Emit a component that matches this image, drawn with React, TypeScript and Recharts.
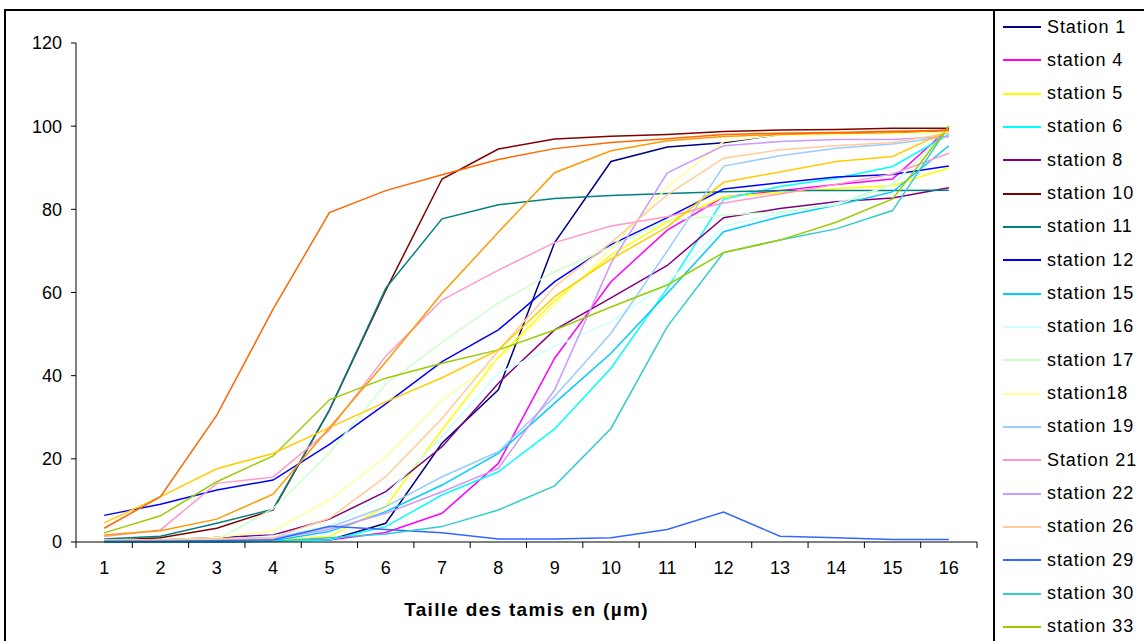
import { LineChart, Line, XAxis, YAxis } from 'recharts';

// sieve sizes (categories on the x axis)
const sizes = [1, 2, 3, 4, 5, 6, 7, 8, 9, 10, 11, 12, 13, 14, 15, 16];
const xTicks = [0.5, 1.5, 2.5, 3.5, 4.5, 5.5, 6.5, 7.5, 8.5, 9.5, 10.5, 11.5, 12.5, 13.5, 14.5, 15.5, 16.5];
const yTicks = [0, 20, 40, 60, 80, 100, 120];

// cumulative % per station
const station1 = [0.3, 0.3, 0.4, 0.4, 0.5, 4.5, 23.8, 36.6, 72, 91.5, 95, 96, 98, 98.3, 98.5, 99];
const station4 = [0.2, 0.2, 0.3, 0.4, 0.5, 2.3, 6.9, 18.9, 44.2, 62.6, 75, 83, 84.5, 86, 87.3, 99.5];
const station5 = [0.2, 0.2, 0.3, 0.4, 1.3, 8.5, 27, 44.4, 58, 69, 77, 83, 84, 85, 85.7, 90];
const station6 = [0, 0, 0, 0.2, 0.5, 3.7, 11.3, 16.9, 27.2, 41.8, 61, 82.4, 85.5, 87.5, 90.3, 98];
const station8 = [0.3, 0.5, 1.1, 1.7, 5.5, 12.1, 22.9, 38.2, 51, 58.7, 66.5, 78, 80.2, 81.8, 82.7, 85.2];
const station10 = [0.3, 1, 3.3, 7.7, 31.7, 60.5, 87.3, 94.5, 96.9, 97.6, 98, 98.7, 99.1, 99.2, 99.5, 99.5];
const station11 = [0.7, 1.4, 4.5, 7.9, 31.7, 61, 77.7, 81.1, 82.6, 83.3, 83.8, 84.2, 84.5, 84.5, 84.5, 84.6];
const station12 = [6.4, 9.1, 12.5, 14.9, 23.5, 33.2, 43.4, 51, 62.6, 71.5, 78, 84.9, 86.4, 87.8, 88.4, 90.4];
const station15 = [0, 0, 0.2, 0.3, 2.5, 7.3, 13.7, 21.3, 33.4, 45.4, 59.8, 74.6, 78.2, 81, 84.2, 95.3];
const station16 = [0.3, 0.3, 0.5, 1.5, 3.7, 11.3, 25.3, 40.6, 47, 53, 62.2, 76, 79, 81.5, 86, 99];
const station17 = [0.2, 0.3, 0.5, 8, 21.4, 38, 48, 57.5, 65, 71, 77.4, 78.6, 79.4, 81, 86, 99];
const station18 = [0.3, 0.5, 1.1, 2.7, 10.1, 20.5, 34.1, 44, 57, 70.6, 85.3, 96.3, 97.9, 98, 98.2, 98.5];
const station19 = [0.5, 0.5, 0.8, 1, 3.5, 8.5, 15.7, 21.7, 35, 50.2, 70, 90.4, 92.9, 94.7, 95.7, 97.5];
const station21 = [1.3, 2.9, 14.1, 15.6, 26.9, 44.7, 58.2, 65.4, 72, 76, 78.2, 81.5, 83.7, 86, 88.5, 93.5];
const station22 = [0.5, 0.5, 0.5, 0.8, 3, 6.9, 12.1, 17.7, 36.6, 67, 88.8, 95.3, 96.3, 96.8, 96.8, 97.5];
const station26 = [0.5, 0.5, 0.7, 1, 5.7, 15.7, 29.7, 46, 61.4, 72, 83.5, 92.3, 94.3, 95.3, 96.1, 98.3];
const station29 = [0.2, 0.2, 0.3, 0.5, 3.8, 3, 2.2, 0.7, 0.7, 1, 3, 7.2, 1.4, 1, 0.6, 0.6];
const station30 = [0, 0, 0, 0.2, 1, 1.9, 3.7, 7.7, 13.5, 27.3, 51.8, 69.6, 72.6, 75.3, 79.7, 100];
const station33 = [2.2, 6.3, 14.5, 20.7, 34.2, 39.4, 43, 46.2, 51, 56.5, 61.8, 69.6, 72.6, 76.9, 82.5, 100];
// the legend is cut off below station 33, these three are only seen as lines
const station34 = [4.6, 10.9, 17.6, 21.3, 27.5, 33.7, 39.5, 46.2, 59, 68, 75.8, 86.5, 89, 91.5, 92.7, 99];
const station35 = [1.7, 2.7, 5.5, 11.5, 27.5, 43.3, 59.8, 74.5, 88.8, 94.1, 96.5, 97.5, 98, 98.3, 98.5, 99];
const station36 = [3.3, 10.9, 30.5, 56, 79.2, 84.5, 88.3, 92, 94.6, 96.1, 97, 98, 98.3, 98.5, 98.8, 99];

const series = [
  { name: 'Station 1', color: '#000080', values: station1 },
  { name: 'station 4', color: '#FF00FF', values: station4 },
  { name: 'station 5', color: '#FFFF00', values: station5 },
  { name: 'station 6', color: '#00FFFF', values: station6 },
  { name: 'station 8', color: '#800080', values: station8 },
  { name: 'station 10', color: '#800000', values: station10 },
  { name: 'station 11', color: '#008080', values: station11 },
  { name: 'station 12', color: '#0000FF', values: station12 },
  { name: 'station 15', color: '#00CCFF', values: station15 },
  { name: 'station 16', color: '#CCFFFF', values: station16 },
  { name: 'station 17', color: '#CCFFCC', values: station17 },
  { name: 'station18', color: '#FFFF99', values: station18 },
  { name: 'station 19', color: '#99CCFF', values: station19 },
  { name: 'Station 21', color: '#FF99CC', values: station21 },
  { name: 'station 22', color: '#CC99FF', values: station22 },
  { name: 'station 26', color: '#FFCC99', values: station26 },
  { name: 'station 29', color: '#3366FF', values: station29 },
  { name: 'station 30', color: '#33CCCC', values: station30 },
  { name: 'station 33', color: '#99CC00', values: station33 },
  { name: 'station 34', color: '#FFCC00', values: station34 },
  { name: 'station 35', color: '#FF9900', values: station35 },
  { name: 'station 36', color: '#FF6600', values: station36 },
];
// only the first 19 entries fit in the visible legend box
const legendCount = 19;

const data = sizes.map((s, i) => {
  const row: Record<string, number> = { size: s };
  series.forEach((sr) => {
    row[sr.name] = sr.values[i];
  });
  return row;
});

const FONT = 'Arial, "Liberation Sans", sans-serif';
const CHART_W = 993;
const CHART_H = 641;
const Y_W = 76;
const M_RIGHT = 16;
const STEP = (CHART_W - Y_W - M_RIGHT) / sizes.length;

// labels sit between the boundary tick marks
const CategoryTick = (props: any) => {
  const { x, y, payload } = props;
  if (payload.value > sizes[sizes.length - 1]) return null;
  return (
    <text x={x + STEP / 2} y={y} dy="0.75em" textAnchor="middle" fontSize={18} fill="#000" fontFamily={FONT}>
      {payload.value + 0.5}
    </text>
  );
};

export default function App() {
  return (
    <div style={{ position: 'absolute', left: 0, top: 0, width: 1144, height: 641, overflow: 'hidden', background: '#fff', fontFamily: FONT }}>
      <div style={{ position: 'absolute', left: 4, top: 9, width: 1200, height: 700, borderLeft: '2px solid #000', borderTop: '2px solid #000' }} />
      <div style={{ position: 'absolute', left: 0, top: 0 }}>
        <LineChart width={CHART_W} height={CHART_H} data={data} margin={{ top: 43, right: M_RIGHT, left: 0, bottom: 0 }}>
          <XAxis
            dataKey="size"
            type="number"
            domain={[0.5, 16.5]}
            ticks={xTicks}
            interval={0}
            height={99}
            tickSize={6}
            tickMargin={12}
            stroke="#000"
            tick={<CategoryTick />}
            label={{ value: 'Taille des tamis en (µm)', position: 'insideBottom', offset: 25, style: { fontWeight: 'bold', fontSize: 19, letterSpacing: 1.3, fill: '#000', fontFamily: FONT } }}
          />
          <YAxis
            type="number"
            domain={[0, 120]}
            ticks={yTicks}
            width={Y_W}
            tickSize={5}
            tickMargin={9}
            stroke="#000"
            tick={{ fontSize: 18, fill: '#000', fontFamily: FONT }}
          />
          {series.map((sr) => (
            <Line
              key={sr.name}
              type="linear"
              dataKey={sr.name}
              stroke={sr.color}
              strokeWidth={1.5}
              dot={false}
              isAnimationActive={false}
            />
          ))}
        </LineChart>
      </div>
      <div style={{ position: 'absolute', left: 993, top: 9, width: 200, height: 800, borderLeft: '2px solid #000', borderTop: '2px solid #000', background: '#fff' }}>
        {series.slice(0, legendCount).map((sr, i) => (
          <div key={sr.name} style={{ position: 'absolute', left: 0, top: 2 + i * 33.33, height: 28, display: 'flex', alignItems: 'center' }}>
            <span style={{ display: 'inline-block', marginLeft: 8, width: 38, height: 2, background: sr.color }} />
            <span style={{ marginLeft: 6, fontSize: 18, letterSpacing: 0.9, color: '#000', whiteSpace: 'nowrap' }}>{sr.name}</span>
          </div>
        ))}
      </div>
    </div>
  );
}
